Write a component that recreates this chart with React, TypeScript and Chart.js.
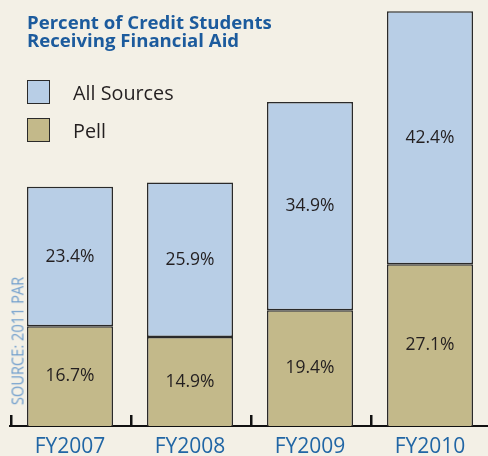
import React, { useEffect, useRef } from 'react';
import { Chart, registerables } from 'chart.js';

Chart.register(...registerables);

const categories = ['FY2007', 'FY2008', 'FY2009', 'FY2010'];
const pellValues = [16.7, 14.9, 19.4, 27.1];
const allSourcesValues = [23.4, 25.9, 34.9, 42.4];
const seriesNames = ['All Sources', 'Pell'];
const titleLines = ['Percent of Credit Students', 'Receiving Financial Aid'];
const sourceNote = 'SOURCE: 2011 PAR';
const yMax = 71.4;

const BG = '#f3f0e6';
const BLUE = '#b8cee6';
const TAN = '#c3b98a';
const EDGE = '#2a2a2a';

const overlayPlugin = {
  id: 'overlay',
  afterDatasetsDraw(chart: any) {
    const ctx = chart.ctx;
    ctx.save();
    ctx.font = '17.5px "Open Sans"';
    ctx.fillStyle = '#231f20';
    ctx.textAlign = 'center';
    ctx.textBaseline = 'middle';
    chart.data.datasets.forEach((ds: any, di: number) => {
      const meta = chart.getDatasetMeta(di);
      meta.data.forEach((el: any, i: number) => {
        const p = el.getProps(['x', 'y', 'base'], true);
        ctx.fillText(`${Number(ds.data[i]).toFixed(1)}%`, p.x, (p.y + p.base) / 2);
      });
    });
    const xs = chart.scales.x;
    const bottom = chart.chartArea.bottom;
    const step = (xs.right - xs.left) / categories.length;
    ctx.fillStyle = '#111';
    for (let i = 0; i <= categories.length; i++) {
      const px = xs.left + i * step;
      ctx.fillRect(px, bottom - 11, 2.5, 11);
    }
    ctx.restore();
  },
};

export default function App() {
  const ref = useRef<HTMLCanvasElement>(null);

  useEffect(() => {
    if (!ref.current) return;
    const chart = new Chart(ref.current, {
      type: 'bar',
      data: {
        labels: categories,
        datasets: [
          {
            label: seriesNames[1],
            data: pellValues,
            backgroundColor: TAN,
            borderColor: EDGE,
            borderWidth: 1.5,
            borderSkipped: 'start',
            barPercentage: 0.717,
            categoryPercentage: 1,
          },
          {
            label: seriesNames[0],
            data: allSourcesValues,
            backgroundColor: BLUE,
            borderColor: EDGE,
            borderWidth: 1.5,
            borderSkipped: false,
            barPercentage: 0.717,
            categoryPercentage: 1,
          },
        ],
      },
      options: {
        responsive: false,
        animation: false,
        layout: { padding: { left: 10, right: 10, top: 0, bottom: 0 } },
        plugins: {
          legend: { display: false },
          title: { display: false },
          tooltip: { enabled: false },
        },
        scales: {
          x: {
            stacked: true,
            grid: { display: false, drawTicks: false },
            border: { display: true, color: '#111', width: 2 },
            ticks: {
              color: '#2166a5',
              font: { family: '"Open Sans"', size: 21 },
              padding: 8,
            },
            afterFit: (scale: any) => {
              scale.height = 30;
            },
          },
          y: {
            stacked: true,
            display: false,
            min: 0,
            max: yMax,
          },
        },
      },
      plugins: [overlayPlugin],
    });
    return () => chart.destroy();
  }, []);

  const legendItems = [
    { name: seriesNames[0], color: BLUE, top: 80 },
    { name: seriesNames[1], color: TAN, top: 118 },
  ];

  return (
    <div
      style={{
        position: 'absolute',
        left: 0,
        top: 0,
        width: 488,
        height: 456,
        overflow: 'hidden',
        background: BG,
      }}
    >
      <canvas ref={ref} width={500} height={456} style={{ position: 'absolute', left: 0, top: 0 }} />
      <div
        style={{
          position: 'absolute',
          left: 27,
          top: 13,
          fontFamily: '"Open Sans", sans-serif',
          fontWeight: 700,
          fontSize: 18.6,
          lineHeight: '18px',
          color: '#1c5b9d',
          whiteSpace: 'nowrap',
        }}
      >
        {titleLines.map((l) => (
          <div key={l}>{l}</div>
        ))}
      </div>
      {legendItems.map((it) => (
        <div key={it.name}>
          <div
            style={{
              position: 'absolute',
              left: 27,
              top: it.top,
              width: 21,
              height: 22,
              background: it.color,
              border: `1.5px solid ${EDGE}`,
            }}
          />
          <div
            style={{
              position: 'absolute',
              left: 73,
              top: it.top + 12,
              transform: 'translateY(-50%)',
              fontFamily: '"Open Sans", sans-serif',
              fontSize: 19.8,
              color: '#231f20',
              whiteSpace: 'nowrap',
            }}
          >
            {it.name}
          </div>
        </div>
      ))}
      <div
        style={{
          position: 'absolute',
          left: 17,
          top: 341,
          transform: 'translate(-50%, -50%) rotate(-90deg) scale(0.86, 1)',
          fontFamily: '"Open Sans", sans-serif',
          fontSize: 17,
          fontWeight: 400,
          color: '#6e9dcc',
          whiteSpace: 'nowrap',
        }}
      >
        {sourceNote}
      </div>
    </div>
  );
}
